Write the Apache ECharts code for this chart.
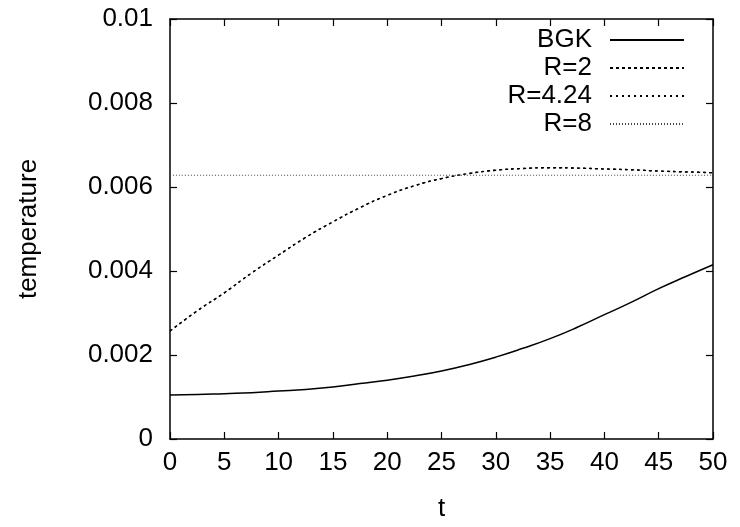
<!DOCTYPE html>
<html><head><meta charset="utf-8">
<script src="https://cdn.jsdelivr.net/npm/echarts@6/dist/echarts.min.js"></script>
<style>html,body{margin:0;padding:0;background:#fff}#c{width:740px;height:527px}</style>
</head><body><div id="c"></div>
<script>
// Data
const tValues = [0, 2.5, 5, 7.5, 10, 12.5, 15, 17.5, 20, 22.5, 25, 27.5, 30, 32.5, 35, 37.5, 40, 42.5, 45, 47.5, 50];
const bgk = [0.00105, 0.00106, 0.00108, 0.00110, 0.00114, 0.00118, 0.00124, 0.00132, 0.00140, 0.00150, 0.00162, 0.00177, 0.00195, 0.00216, 0.00239, 0.00266, 0.00296, 0.00326, 0.00358, 0.00387, 0.00415];
const r2 = [0.00257, 0.00305, 0.00348, 0.00395, 0.00438, 0.00480, 0.00517, 0.00551, 0.00580, 0.00603, 0.00620, 0.00632, 0.00640, 0.00644, 0.00646, 0.00645, 0.00643, 0.00641, 0.00638, 0.00636, 0.00634];
const r424 = [0.00257, 0.00305, 0.00348, 0.00395, 0.00438, 0.00480, 0.00517, 0.00551, 0.00580, 0.00603, 0.00620, 0.00632, 0.00640, 0.00644, 0.00646, 0.00645, 0.00643, 0.00641, 0.00638, 0.00636, 0.00634];
const r8 = [0.00628, 0.00628, 0.00628, 0.00628, 0.00628, 0.00628, 0.00628, 0.00628, 0.00628, 0.00628, 0.00628, 0.00628, 0.00628, 0.00628, 0.00628, 0.00628, 0.00628, 0.00628, 0.00628, 0.00628, 0.00628];
const seriesNames = ['BGK', 'R=2', 'R=4.24', 'R=8'];
const xTicks = {min: 0, max: 50, interval: 5};
const yTicks = {min: 0, max: 0.01, interval: 0.002};

const pairs = arr => tValues.map((t, i) => [t, arr[i]]);
const FONT = 'Liberation Sans, Arial, sans-serif';
const FS = 26;
const axisCommon = {
  axisLine: {show: true, onZero: false, lineStyle: {color: '#000', width: 1.5}},
  axisTick: {show: true, inside: true, length: 7, lineStyle: {color: '#000', width: 1.2}},
  splitLine: {show: false}
};
const chart = echarts.init(document.getElementById('c'), null, {renderer: 'canvas'});
chart.setOption({
  animation: false,
  backgroundColor: '#fff',
  textStyle: {fontFamily: FONT},
  grid: {left: 170, right: 27, top: 19, bottom: 86, containLabel: false},
  legend: {
    orient: 'vertical', align: 'right', right: 50, top: 22,
    itemWidth: 74, itemHeight: 14, itemGap: 2,
    data: seriesNames,
    itemStyle: {opacity: 0},
    textStyle: {fontSize: FS, color: '#000', fontFamily: FONT, padding: [0, 13, 0, 0]},
    selectedMode: false
  },
  xAxis: [
    Object.assign({type: 'value', position: 'bottom', min: xTicks.min, max: xTicks.max, interval: xTicks.interval,
      name: 't', nameLocation: 'middle', nameGap: 57,
      nameTextStyle: {fontSize: FS, color: '#000', fontFamily: FONT},
      axisLabel: {fontSize: FS, color: '#000', margin: 11, fontFamily: FONT}}, axisCommon),
    Object.assign({type: 'value', position: 'top', min: xTicks.min, max: xTicks.max, interval: xTicks.interval,
      axisLabel: {show: false}}, axisCommon)
  ],
  yAxis: [
    Object.assign({type: 'value', position: 'left', min: yTicks.min, max: yTicks.max, interval: yTicks.interval,
      name: 'temperature', nameLocation: 'middle', nameGap: 128, nameRotate: 90,
      nameTextStyle: {fontSize: FS, color: '#000', fontFamily: FONT},
      axisLabel: {fontSize: FS, color: '#000', margin: 17, fontFamily: FONT}}, axisCommon),
    Object.assign({type: 'value', position: 'right', min: yTicks.min, max: yTicks.max, interval: yTicks.interval,
      axisLabel: {show: false}}, axisCommon)
  ],
  series: [
    {name: seriesNames[0], type: 'line', data: pairs(bgk), smooth: true, symbol: 'none',
      lineStyle: {color: '#000', width: 1.5, type: 'solid'}, itemStyle: {color: '#000'}},
    {name: seriesNames[1], type: 'line', data: pairs(r2), smooth: true, symbol: 'none',
      lineStyle: {color: '#000', width: 1.4, type: [3, 3]}, itemStyle: {color: '#000'}},
    {name: seriesNames[2], type: 'line', data: pairs(r424), smooth: true, symbol: 'none',
      lineStyle: {color: '#000', width: 1.4, type: [2, 4]}, itemStyle: {color: '#000'}},
    {name: seriesNames[3], type: 'line', data: pairs(r8), smooth: true, symbol: 'none',
      lineStyle: {color: '#444', width: 1, type: [1, 2]}, itemStyle: {color: '#444'}}
  ]
});
</script></body></html>
